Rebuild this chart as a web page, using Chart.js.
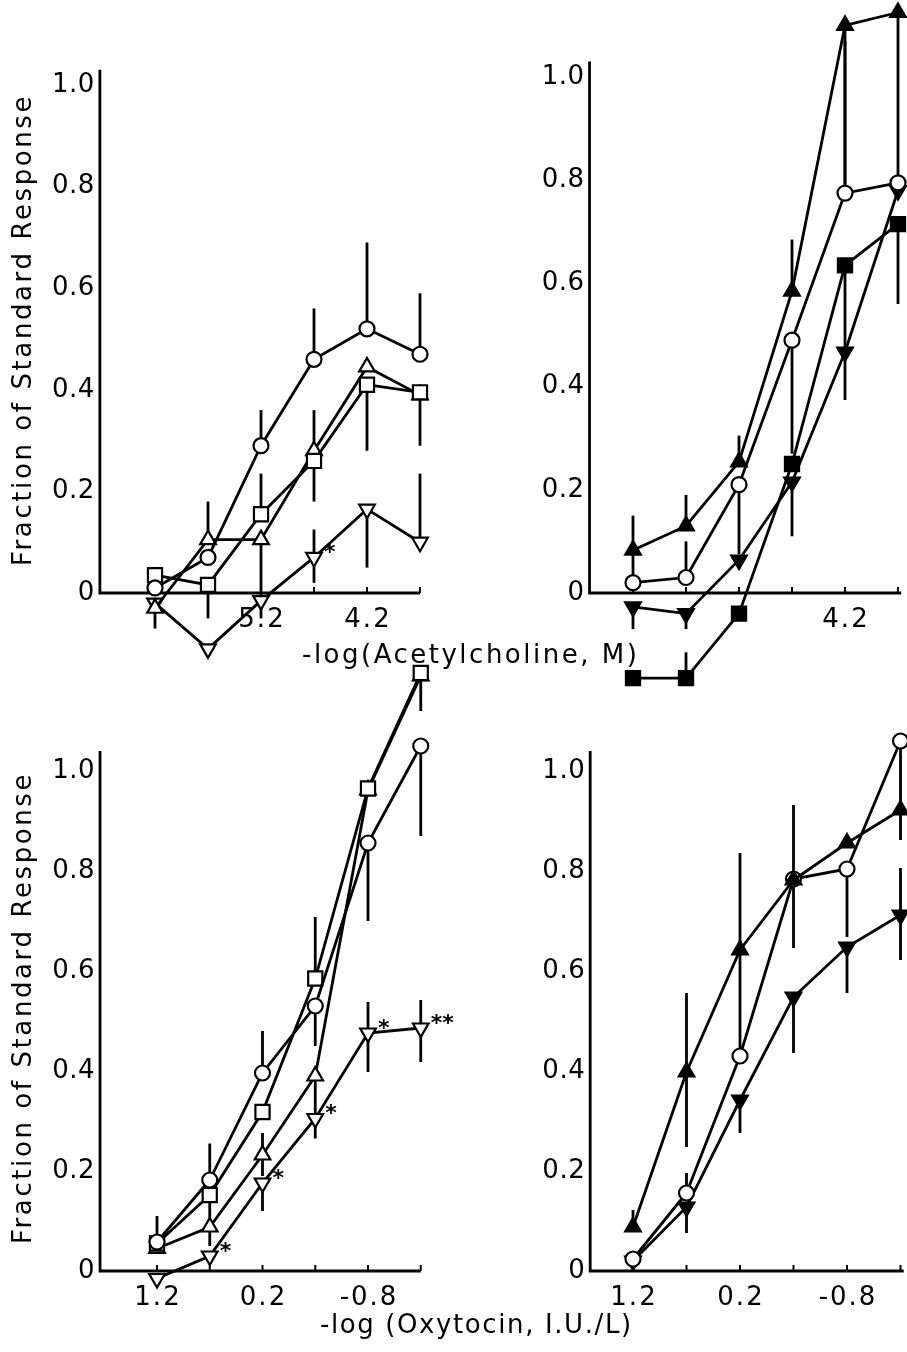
<!DOCTYPE html>
<html>
<head>
<meta charset="utf-8">
<script src="https://cdn.jsdelivr.net/npm/chart.js@4.4.1/dist/chart.umd.min.js"></script>
<style>
  html, body { margin: 0; padding: 0; background: #fff; }
  body { width: 907px; height: 1352px; position: relative; overflow: hidden; font-family: 'DejaVu Sans', sans-serif; color: #000; }
  canvas { position: absolute; }
  .title { position: absolute; z-index: 5; font-size: 26px; letter-spacing: 2.5px; white-space: nowrap; }
  .ytitle { position: absolute; z-index: 5; width: 500px; height: 30px; line-height: 30px; font-size: 26px; letter-spacing: 2.6px; text-align: center; white-space: nowrap; transform: rotate(-90deg); }
</style>
</head>
<body>
<div class="ytitle" style="left:-228px; top:315px;">Fraction of Standard Response</div>
<div class="ytitle" style="left:-228px; top:993px;">Fraction of Standard Response</div>
<div class="title" style="left:302px; top:639px;">-log(Acetylcholine, M)</div>
<div class="title" style="left:320px; top:1309px; letter-spacing:1.6px;">-log (Oxytocin, I.U./L)</div>

<canvas id="panelA" width="430" height="690" style="left:30px; top:0px;"></canvas>
<canvas id="panelB" width="407" height="700" style="left:500px; top:0px;"></canvas>
<canvas id="panelC" width="430" height="680" style="left:30px; top:640px;"></canvas>
<canvas id="panelD" width="407" height="680" style="left:500px; top:640px;"></canvas>

<script>
// ===== Doses & ticks =====
const achDose = [6.2, 5.7, 5.2, 4.7, 4.2, 3.7];     // -log(Acetylcholine, M)
const oxyDose = [1.2, 0.7, 0.2, -0.3, -0.8, -1.3];  // -log(Oxytocin, I.U./L)
const achLabelsA = ['', '', '5.2', '', '4.2', ''];
const achLabelsB = ['', '', '', '', '4.2', ''];
const oxyLabels = ['1.2', '', '0.2', '', '-0.8', ''];
const yTickValues = [0, 0.2, 0.4, 0.6, 0.8, 1.0];
const yTickLabels = ['0', '0.2', '0.4', '0.6', '0.8', '1.0'];

// ===== Panel A (top left) =====
const aCircle      = [0.01, 0.07, 0.29, 0.46, 0.52, 0.47];
const aCircleBar   = [null, null, 0.36, 0.56, 0.69, 0.59];
const aSquare      = [0.035, 0.016, 0.155, 0.26, 0.41, 0.395];
const aSquareBar   = [null, -0.05, 0.235, 0.18, 0.28, 0.29];
const aTriUp       = [-0.03, 0.105, 0.105, 0.28, 0.445, 0.39];
const aTriUpBar    = [-0.07, 0.18, -0.05, 0.36, null, null];
const aTriDown     = [-0.02, -0.11, -0.015, 0.07, 0.165, 0.1];
const aTriDownBar  = [null, null, null, [0.02, 0.125], 0.05, 0.235];
const aTriDownMark = ['', '', '', '*', '', ''];

// ===== Panel B (top right) =====
const bTriUp      = [0.083, 0.13, 0.254, 0.585, 1.10, 1.125];
const bTriUpBar   = [[0.03, 0.15], 0.19, 0.305, 0.685, 0.79, 0.80];
const bCircle     = [0.02, 0.03, 0.21, 0.49, 0.775, 0.795];
const bCircleBar  = [null, 0.10, 0.075, 0.27, 1.07, null];
const bSquare     = [-0.165, -0.165, -0.04, 0.25, 0.635, 0.715];
const bSquareBar  = [null, -0.115, null, null, 0.465, 0.56];
const bTriDown    = [-0.027, -0.04, 0.064, 0.215, 0.467, 0.78];
const bTriDownBar = [-0.07, -0.07, null, 0.11, 0.374, null];

// ===== Panel C (bottom left) =====
const cCircle      = [0.058, 0.182, 0.396, 0.53, 0.856, 1.05];
const cCircleBar   = [0.11, 0.255, 0.48, 0.45, 0.70, 0.87];
const cSquare      = [0.055, 0.152, 0.318, 0.585, 0.965, 1.196];
const cSquareBar   = [null, 0.10, null, 0.708, null, 1.12];
const cTriUp       = [0.045, 0.088, 0.232, 0.39, 0.962, 1.19];
const cTriUpBar    = [null, 0.05, [0.19, 0.276], 0.30, null, null];
const cTriDown     = [-0.015, 0.03, 0.176, 0.305, 0.476, 0.486];
const cTriDownBar  = [null, null, 0.12, 0.265, [0.398, 0.538], [0.418, 0.542]];
const cTriDownMark = ['', '*', '*', '*', '*', '**'];

// ===== Panel D (bottom right) =====
const dTriUp      = [0.088, 0.398, 0.642, 0.782, 0.856, 0.922];
const dTriUpBar   = [0.122, [0.248, 0.556], 0.836, null, null, null];
const dCircle     = [0.024, 0.156, 0.43, 0.784, 0.804, 1.06];
const dCircleBar  = [null, 0.196, 0.64, [0.646, 0.932], 0.668, 0.862];
const dTriDown    = [0.02, 0.128, 0.342, 0.548, 0.648, 0.712];
const dTriDownBar = [null, 0.076, 0.276, 0.436, 0.556, [0.622, 0.806]];

// ===== Marker styles =====
const markers = {
  circle:   { pointStyle: 'circle',   radius: 7.5, fill: '#fff', rotation: 0 },
  square:   { pointStyle: 'rect',     radius: 10, fill: '#fff', rotation: 0 },
  triUp:    { pointStyle: 'triangle', radius: 9, fill: '#fff', rotation: 0 },
  triDown:  { pointStyle: 'triangle', radius: 9, fill: '#fff', rotation: 180 },
  fTriUp:   { pointStyle: 'triangle', radius: 9, fill: '#000', rotation: 0 },
  fSquare:  { pointStyle: 'rect',     radius: 10, fill: '#000', rotation: 0 },
  fTriDown: { pointStyle: 'triangle', radius: 9, fill: '#000', rotation: 180 },
};

function series(xs, ys, bars, marker, marks) {
  const m = markers[marker];
  return {
    data: xs.map((x, i) => ({ x: x, y: ys[i] })),
    bars: bars,
    marks: marks || [],
    showLine: true,
    borderColor: '#000',
    borderWidth: 2.8,
    tension: 0,
    pointStyle: m.pointStyle,
    pointRadius: m.radius,
    pointRotation: m.rotation,
    pointBackgroundColor: m.fill,
    pointBorderColor: '#000',
    pointBorderWidth: 2.2,
    clip: false,
  };
}

// ===== Plugins: axes, error bars, significance marks =====
const frame = {
  id: 'frame',
  beforeDatasetsDraw(chart, args, o) {
    const { ctx, scales: { x, y } } = chart;
    const x0 = x.getPixelForValue(o.xFrom), x1 = x.getPixelForValue(o.xTo);
    const y0 = y.getPixelForValue(0), yTop = y.getPixelForValue(o.yTo);
    ctx.save();
    ctx.strokeStyle = '#000';
    ctx.lineWidth = 2.8;
    ctx.beginPath();
    ctx.moveTo(x0, yTop);
    ctx.lineTo(x0, y0);
    ctx.lineTo(x1, y0);
    ctx.stroke();
    ctx.lineWidth = 2;
    o.xTicks.forEach(v => {
      const px = x.getPixelForValue(v);
      ctx.beginPath(); ctx.moveTo(px, y0); ctx.lineTo(px, y0 - 6); ctx.stroke();
    });
    ctx.fillStyle = '#000';
    ctx.font = '26px "DejaVu Sans"';
    ctx.letterSpacing = '2px';
    ctx.textBaseline = 'middle';
    ctx.textAlign = 'center';
    o.xTicks.forEach((v, i) => {
      if (o.xLabels[i]) ctx.fillText(o.xLabels[i], x.getPixelForValue(v) + 1, y0 + 27);
    });
    ctx.letterSpacing = '0.5px';
    ctx.textAlign = 'right';
    o.yTicks.forEach((v, i) => ctx.fillText(o.yLabels[i], x0 - 5, y.getPixelForValue(v)));
    ctx.restore();
  }
};

const errorBars = {
  id: 'errorBars',
  beforeDatasetsDraw(chart) {
    const { ctx, scales: { x, y } } = chart;
    ctx.save();
    ctx.strokeStyle = '#000';
    ctx.lineWidth = 2.8;
    chart.data.datasets.forEach(ds => {
      (ds.bars || []).forEach((b, i) => {
        if (b === null) return;
        const ends = Array.isArray(b) ? b : [ds.data[i].y, b];
        const px = x.getPixelForValue(ds.data[i].x);
        ctx.beginPath();
        ctx.moveTo(px, y.getPixelForValue(ends[0]));
        ctx.lineTo(px, y.getPixelForValue(ends[1]));
        ctx.stroke();
      });
    });
    ctx.restore();
  }
};

const starMarks = {
  id: 'starMarks',
  afterDatasetsDraw(chart) {
    const { ctx, scales: { x, y } } = chart;
    ctx.save();
    ctx.fillStyle = '#000';
    ctx.font = 'bold 22px "DejaVu Sans"';
    ctx.textAlign = 'left';
    ctx.textBaseline = 'middle';
    chart.data.datasets.forEach(ds => {
      ds.marks.forEach((t, i) => {
        if (!t) return;
        ctx.fillText(t, x.getPixelForValue(ds.data[i].x) + 10, y.getPixelForValue(ds.data[i].y) - 4);
      });
    });
    ctx.restore();
  }
};

// value at a pixel, from two anchor points [v1, p1, v2, p2]
function valueAt(a, p) {
  return a[0] + (p - a[1]) * (a[2] - a[0]) / (a[3] - a[1]);
}

function makePanel(id, box, xAnchor, yAnchor, datasets, axis) {
  const canvas = document.getElementById(id);
  const left = box[0], top = box[1], w = canvas.width, h = canvas.height;
  const xl = valueAt(xAnchor, left), xr = valueAt(xAnchor, left + w);
  const yt = valueAt(yAnchor, top), yb = valueAt(yAnchor, top + h);
  new Chart(canvas.getContext('2d'), {
    type: 'scatter',
    data: { datasets: datasets },
    options: {
      responsive: false,
      animation: false,
      events: [],
      layout: { padding: 0, autoPadding: false },
      plugins: { legend: { display: false }, tooltip: { enabled: false }, frame: axis },
      scales: {
        x: { type: 'linear', display: false, reverse: true, bounds: 'data', min: Math.min(xl, xr), max: Math.max(xl, xr) },
        y: { type: 'linear', display: false, bounds: 'data', min: Math.min(yt, yb), max: Math.max(yt, yb) },
      }
    },
    plugins: [frame, errorBars, starMarks]
  });
}

makePanel('panelA', [30, 0], [6.2, 155, 4.2, 367], [0, 593, 1, 85], [
  series(achDose, aCircle, aCircleBar, 'circle'),
  series(achDose, aSquare, aSquareBar, 'square'),
  series(achDose, aTriUp, aTriUpBar, 'triUp'),
  series(achDose, aTriDown, aTriDownBar, 'triDown', aTriDownMark),
], { xFrom: 6.72, xTo: 3.7, yTo: 1.03, xTicks: achDose, xLabels: achLabelsA, yTicks: yTickValues, yLabels: yTickLabels });

makePanel('panelB', [500, 0], [6.2, 633, 4.2, 845], [0, 593, 1, 77], [
  series(achDose, bTriUp, bTriUpBar, 'fTriUp'),
  series(achDose, bCircle, bCircleBar, 'circle'),
  series(achDose, bSquare, bSquareBar, 'fSquare'),
  series(achDose, bTriDown, bTriDownBar, 'fTriDown'),
], { xFrom: 6.61, xTo: 3.67, yTo: 1.03, xTicks: achDose, xLabels: achLabelsB, yTicks: yTickValues, yLabels: yTickLabels });

makePanel('panelC', [30, 640], [1.2, 157, -0.8, 368], [0, 1271, 1, 771], [
  series(oxyDose, cCircle, cCircleBar, 'circle'),
  series(oxyDose, cSquare, cSquareBar, 'square'),
  series(oxyDose, cTriUp, cTriUpBar, 'triUp'),
  series(oxyDose, cTriDown, cTriDownBar, 'triDown', cTriDownMark),
], { xFrom: 1.74, xTo: -1.3, yTo: 1.04, xTicks: oxyDose, xLabels: oxyLabels, yTicks: yTickValues, yLabels: yTickLabels });

makePanel('panelD', [500, 640], [1.2, 633, -0.8, 847], [0, 1271, 1, 771], [
  series(oxyDose, dTriUp, dTriUpBar, 'fTriUp'),
  series(oxyDose, dCircle, dCircleBar, 'circle'),
  series(oxyDose, dTriDown, dTriDownBar, 'fTriDown'),
], { xFrom: 1.6, xTo: -1.33, yTo: 1.04, xTicks: oxyDose, xLabels: oxyLabels, yTicks: yTickValues, yLabels: yTickLabels });
</script>
</body>
</html>
